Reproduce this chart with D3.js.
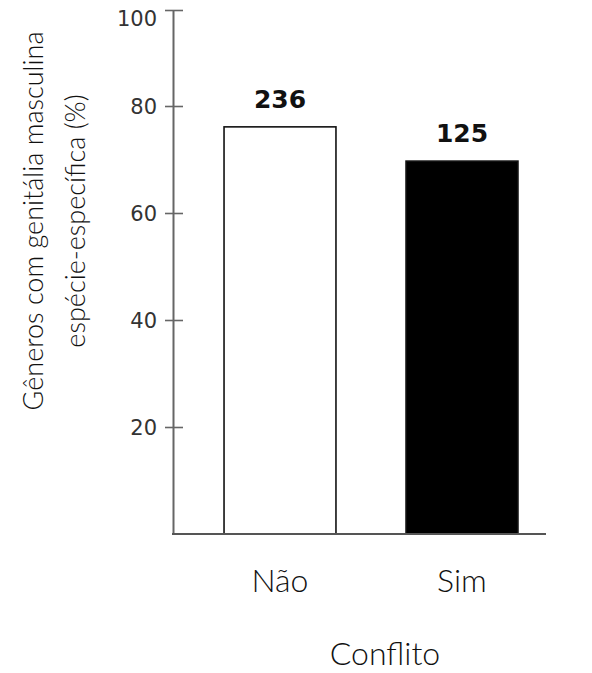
<!DOCTYPE html>
<html><head><meta charset="utf-8">
<script src="https://cdn.jsdelivr.net/npm/d3@7"></script>
<style>body{margin:0;background:#fff}</style>
</head><body>
<svg id="chart" width="592" height="673"></svg>
<script>
const categories = ["Não", "Sim"];
const values = [76.1, 69.7];
const counts = ["236", "125"];
const fills = ["#ffffff", "#000000"];
const yTicks = [20, 40, 60, 80, 100];
const yTitleLines = ["Gêneros com genitália masculina", "espécie-específica (%)"];
const xTitle = "Conflito";

const svg = d3.select("#chart");
const axisX = 173, baseY = 534;

const y = d3.scaleLinear().domain([0, 80, 100]).range([baseY, 106, 10]);
const x = d3.scaleBand().domain(categories).range([189, 553]).paddingInner(0.385).paddingOuter(0.1925);

// bars
svg.selectAll("rect.bar").data(categories).join("rect")
  .attr("class", "bar")
  .attr("x", d => x(d))
  .attr("width", x.bandwidth())
  .attr("y", (d, i) => y(values[i]))
  .attr("height", (d, i) => baseY - y(values[i]))
  .attr("fill", (d, i) => fills[i])
  .attr("stroke", "#111")
  .attr("stroke-width", 1.6);

// count labels
svg.selectAll("text.cnt").data(categories).join("text")
  .attr("class", "cnt")
  .attr("x", d => x(d) + x.bandwidth() / 2)
  .attr("y", (d, i) => y(values[i]) - 19)
  .attr("text-anchor", "middle")
  .attr("font-family", "DejaVu Sans")
  .attr("font-weight", "bold")
  .attr("font-size", 25)
  .attr("fill", "#111")
  .text((d, i) => counts[i]);

// y axis
const yAxis = d3.axisLeft(y).tickValues(yTicks).tickSizeInner(0).tickSizeOuter(0).tickPadding(16);
const gy = svg.append("g").attr("transform", `translate(${axisX},0)`).call(yAxis);
gy.select(".domain").attr("stroke", "#666").attr("stroke-width", 2);
gy.selectAll(".tick line").attr("x1", -8).attr("x2", 10).attr("stroke", "#666").attr("stroke-width", 1.6);
gy.selectAll(".tick text").attr("font-family", "DejaVu Sans").attr("font-size", 21).attr("fill", "#333")
  .attr("dy", d => d === 100 ? "0.72em" : "0.35em");

// x baseline
svg.append("line").attr("x1", axisX - 1).attr("x2", 546).attr("y1", baseY).attr("y2", baseY)
  .attr("stroke", "#555").attr("stroke-width", 2);

// x category labels
svg.selectAll("text.cat").data(categories).join("text")
  .attr("class", "cat")
  .attr("x", d => x(d) + x.bandwidth() / 2)
  .attr("y", 592)
  .attr("text-anchor", "middle")
  .attr("font-family", "Lato")
  .attr("font-weight", 300)
  .attr("font-size", 32)
  .attr("fill", "#111")
  .text(d => d);

svg.append("text").attr("x", 385).attr("y", 665).attr("text-anchor", "middle")
  .attr("font-family", "Lato").attr("font-weight", 300).attr("font-size", 32).attr("fill", "#111")
  .text(xTitle);

// y title
const yt = svg.append("text").attr("transform", "translate(43,221) rotate(-90)")
  .attr("text-anchor", "middle").attr("font-family", "Lato").attr("font-weight", 300)
  .attr("font-size", 27).attr("fill", "#111");
yTitleLines.forEach((t, i) => yt.append("tspan").attr("x", 0).attr("y", i * 42).text(t));
</script>
</body></html>
